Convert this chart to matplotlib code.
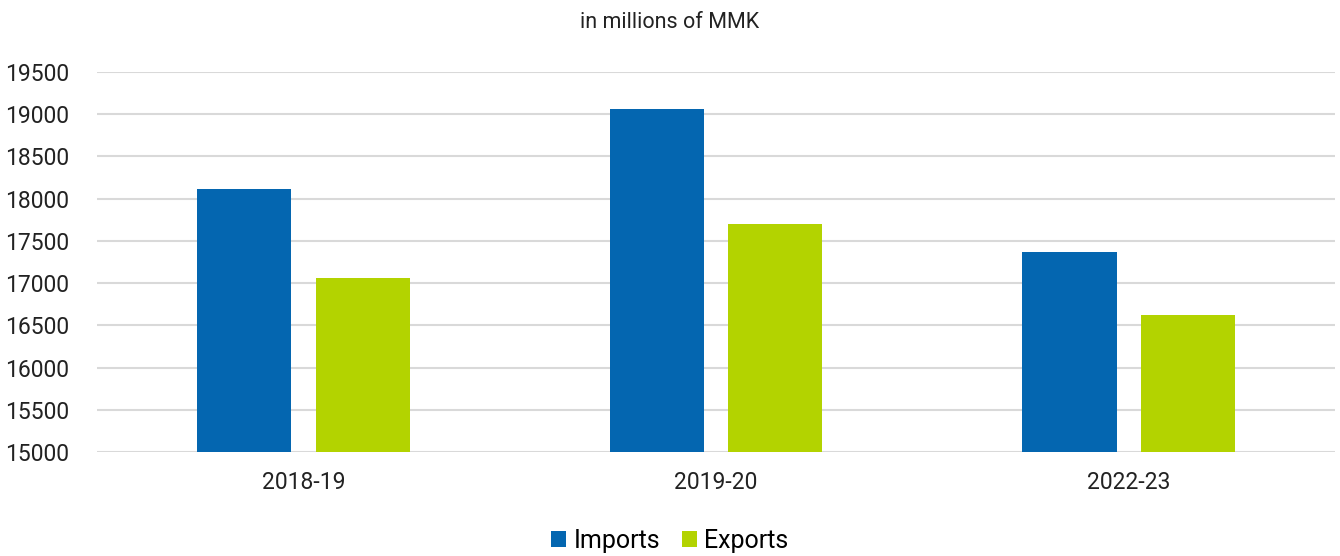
import numpy as np
import matplotlib.pyplot as plt

plt.rcParams["font.family"] = ["Roboto", "DejaVu Sans"]

years = ["2018-19", "2019-20", "2022-23"]
imports = [18120, 19064, 17366]
exports = [17064, 17698, 16623]

fig = plt.figure(figsize=(13.4, 5.56), dpi=100)
ax = fig.add_axes([0.0724, 0.187, 0.924, 0.6835])

x = np.arange(len(years))
w = 0.228
ax.bar(x - 0.1437, np.array(imports) - 15000, w, bottom=15000, color="#0466B0", label="Imports", zorder=3)
ax.bar(x + 0.1437, np.array(exports) - 15000, w, bottom=15000, color="#B3D300", label="Exports", zorder=3)

ax.set_xlim(-0.5, 2.5)
ax.set_ylim(15000, 19500)
ax.set_yticks(np.arange(15000, 19501, 500))
ax.set_xticks(x)
ax.set_xticklabels(years)
ax.tick_params(axis="both", length=0, labelsize=16.5, colors="#222222")
ax.tick_params(axis="y", pad=20)
ax.tick_params(axis="x", pad=14)
ax.grid(axis="y", color="#d9d9d9", linewidth=1.5, zorder=0)
for s in ax.spines.values():
    s.set_visible(False)

fig.text(0.5, 0.96, "in millions of MMK", ha="center", va="center", fontsize=15.5, color="#222222")
fig.legend(loc="center", bbox_to_anchor=(0.5, 0.027), ncol=2, frameon=False, fontsize=18,
           handlelength=0.6, handleheight=0.6, handletextpad=0.28, columnspacing=0.9)

fig.savefig("out.png", dpi=100)
